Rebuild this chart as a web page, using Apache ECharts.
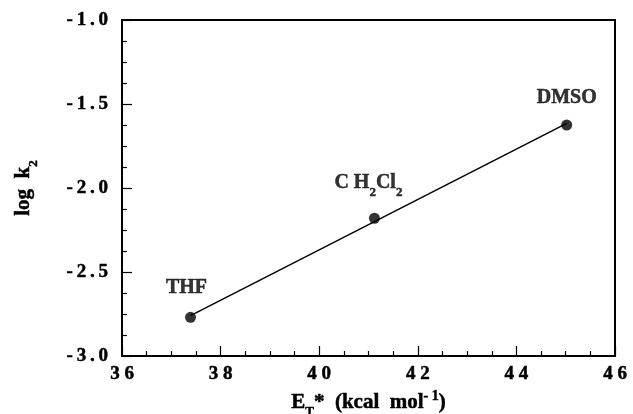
<!DOCTYPE html>
<html>
<head>
<meta charset="utf-8">
<script src="https://cdn.jsdelivr.net/npm/echarts@6/dist/echarts.min.js"></script>
<style>
  html, body { margin: 0; padding: 0; background: #fff; }
  #chart { width: 633px; height: 414px; }
</style>
</head>
<body>
<div id="chart"></div>
<script>
// Solvents and their measured values
const solvents = ['THF', 'CH2Cl2', 'DMSO'];
const etValues = [37.39, 41.12, 45.02];      // E_T* (kcal/mol)
const logK2 = [-2.77, -2.18, -1.625];         // log k2
// Least-squares line end points
const fitX = [37.39, 45.02];
const fitY = [-2.76, -1.615];

const xTicks = { min: 36, max: 46, step: 2 };
const yTicks = { min: -3.0, max: -1.0, step: 0.5 };

const FONT = '"Liberation Serif", "Times New Roman", serif';
const INK = { color: '#000', textBorderColor: '#000', textBorderWidth: 0.5 };
const spaced = (s, sep) => String(s).split('').join(sep);

// label text per solvent, with subscripts in rich text
const labelText = {
  'THF': 'THF',
  'CH2Cl2': 'C H{s|2}Cl{s|2}',
  'DMSO': 'DMSO'
};
const labelOffset = {
  'THF': [-4, -9],
  'CH2Cl2': [-6, -15],
  'DMSO': [0, -7]
};

const points = solvents.map((name, i) => ({
  value: [etValues[i], logK2[i]],
  name: name,
  label: {
    show: true,
    position: 'top',
    offset: labelOffset[name],
    formatter: labelText[name]
  }
}));

const fitLine = fitX.map((x, i) => [x, fitY[i]]);

const subStyle = (size, pad) => Object.assign({
  fontFamily: FONT, fontWeight: 'bold', fontSize: size,
  verticalAlign: pad < 0 ? 'top' : 'bottom',
  padding: pad < 0 ? [pad, 0, 0, 0] : [0, 0, -pad, 0]
}, INK);

const chart = echarts.init(document.getElementById('chart'), null, { renderer: 'canvas' });
chart.setOption({
  backgroundColor: '#fff',
  animation: false,
  grid: {
    left: 122, right: 18, top: 20, bottom: 58,
    containLabel: false,
    outerBoundsMode: 'none',
    show: true, borderColor: '#000', borderWidth: 2, backgroundColor: 'transparent'
  },
  xAxis: {
    type: 'value',
    min: xTicks.min, max: xTicks.max, interval: xTicks.step,
    axisLine: { show: true, onZero: false, lineStyle: { color: '#000', width: 2 } },
    axisTick: { show: true, inside: true, length: 10, lineStyle: { color: '#000', width: 1.2 } },
    minorTick: { show: true, splitNumber: 4, length: 5, lineStyle: { color: '#000', width: 1.2 } },
    splitLine: { show: false },
    axisLabel: Object.assign({
      fontFamily: FONT, fontWeight: 'bold', fontSize: 19, margin: 9,
      formatter: v => spaced(v, ' ')
    }, INK),
    name: 'E{sub|T}*  (kcal  mol{sup|- 1})',
    nameLocation: 'middle',
    nameGap: 25,
    nameTextStyle: Object.assign({
      fontFamily: FONT, fontWeight: 'bold', fontSize: 21,
      rich: { sub: subStyle(13, 5), sup: subStyle(14, -3) }
    }, INK)
  },
  yAxis: {
    type: 'value',
    min: yTicks.min, max: yTicks.max, interval: yTicks.step,
    axisLine: { show: true, onZero: false, lineStyle: { color: '#000', width: 2 } },
    axisTick: { show: true, inside: true, length: 10, lineStyle: { color: '#000', width: 1.2 } },
    minorTick: { show: true, splitNumber: 4, length: 5, lineStyle: { color: '#000', width: 1.2 } },
    splitLine: { show: false },
    axisLabel: Object.assign({
      fontFamily: FONT, fontWeight: 'bold', fontSize: 19, margin: 14,
      formatter: v => spaced(v.toFixed(1), '\u2009')
    }, INK),
    name: 'log  k{sub|2}',
    nameLocation: 'middle',
    nameGap: 88,
    nameTextStyle: Object.assign({
      fontFamily: FONT, fontWeight: 'bold', fontSize: 21,
      rich: { sub: subStyle(13, 6) }
    }, INK)
  },
  series: [
    {
      type: 'line',
      data: fitLine,
      showSymbol: false,
      symbol: 'none',
      lineStyle: { color: '#000', width: 1.5 },
      silent: true,
      z: 2
    },
    {
      type: 'scatter',
      data: points,
      symbol: 'circle',
      symbolSize: 11,
      itemStyle: { color: '#000' },
      label: Object.assign({
        fontFamily: FONT, fontWeight: 'bold', fontSize: 20,
        rich: { s: subStyle(13, 6) }
      }, INK),
      z: 3
    }
  ]
});
</script>
</body>
</html>
